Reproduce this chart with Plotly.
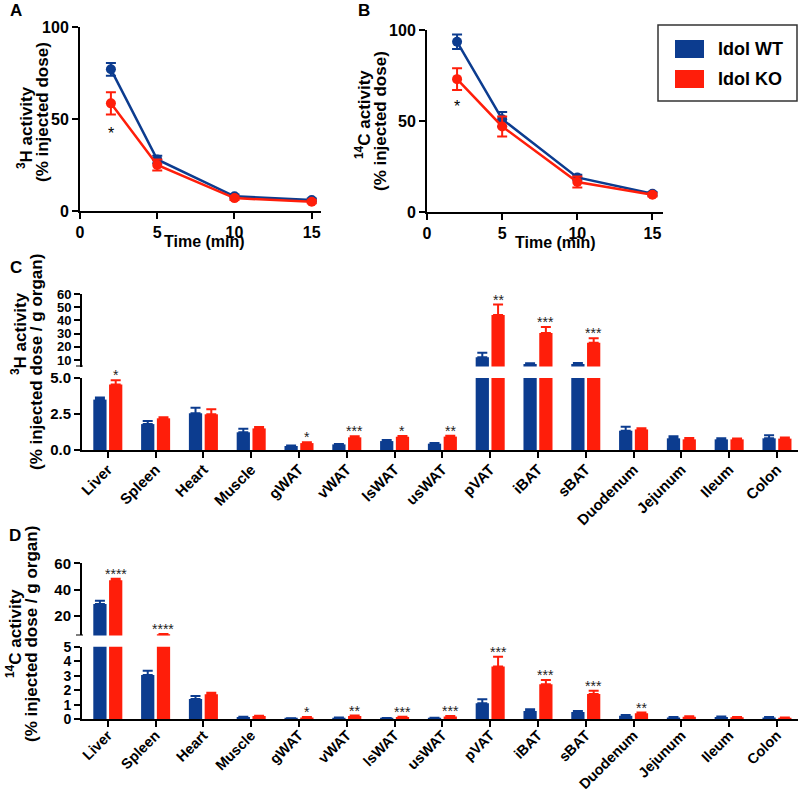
import plotly.graph_objects as go

# ---------------- data ----------------
time_min = [2, 5, 10, 15]
A_wt = [77, 28, 8, 6]
A_wt_err = [3.5, 2.0, 1.0, 0.8]
A_ko = [58.5, 25, 7, 5]
A_ko_err = [6.0, 3.0, 1.0, 0.8]

B_wt = [93.5, 51, 19, 10]
B_wt_err = [4.0, 4.0, 1.5, 1.0]
B_ko = [73, 47, 16.5, 9.5]
B_ko_err = [6.0, 5.5, 3.0, 1.0]

organs = ["Liver", "Spleen", "Heart", "Muscle", "gWAT", "vWAT", "lsWAT", "usWAT",
          "pVAT", "iBAT", "sBAT", "Duodenum", "Jejunum", "Ileum", "Colon"]

C_wt = [3.5, 1.8, 2.55, 1.23, 0.28, 0.39, 0.62, 0.44, 12, 7, 7, 1.34, 0.81, 0.74, 0.81]
C_wt_err = [0.15, 0.22, 0.38, 0.25, 0.03, 0.03, 0.08, 0.04, 3.5, 0.6, 0.8, 0.28, 0.15, 0.08, 0.22]
C_ko = [4.55, 2.2, 2.48, 1.5, 0.48, 0.88, 0.92, 0.93, 44, 30.5, 23, 1.43, 0.74, 0.74, 0.79]
C_ko_err = [0.3, 0.08, 0.35, 0.1, 0.06, 0.08, 0.06, 0.06, 8, 4.5, 3.5, 0.08, 0.1, 0.06, 0.08]
C_stars = ["*", "", "", "", "*", "***", "*", "**", "**", "***", "***", "", "", "", ""]

D_wt = [29, 3.05, 1.4, 0.15, 0.05, 0.1, 0.07, 0.08, 1.1, 0.57, 0.5, 0.25, 0.12, 0.16, 0.12]
D_wt_err = [2.5, 0.3, 0.2, 0.03, 0.02, 0.02, 0.02, 0.02, 0.28, 0.12, 0.08, 0.05, 0.03, 0.04, 0.03]
D_ko = [47, 5.8, 1.72, 0.22, 0.12, 0.22, 0.15, 0.2, 3.63, 2.41, 1.74, 0.41, 0.18, 0.14, 0.1]
D_ko_err = [1.3, 0.3, 0.1, 0.03, 0.03, 0.04, 0.03, 0.03, 0.67, 0.3, 0.23, 0.05, 0.03, 0.02, 0.02]
D_stars = ["****", "****", "", "", "*", "**", "***", "***", "***", "***", "***", "**", "", "", ""]

series_names = ["Idol WT", "Idol KO"]
BREAK = 5  # axis break value for panels C and D

# ---------------- style ----------------
W, H = 800, 789
BLUE = "#0C3C8F"
RED = "#FF1E0A"
FONT = "Liberation Sans, Arial, sans-serif"


def X(px):
    return px / W


def Y(py):
    return 1 - py / H


idx = list(range(len(organs)))

fig = go.Figure()

# ---- line panels A, B ----
for (wt, wte, ko, koe, xa, ya) in [(A_wt, A_wt_err, A_ko, A_ko_err, "x", "y"),
                                   (B_wt, B_wt_err, B_ko, B_ko_err, "x2", "y2")]:
    for vals, errs, col, nm in [(wt, wte, BLUE, series_names[0]), (ko, koe, RED, series_names[1])]:
        fig.add_trace(go.Scatter(
            x=time_min, y=vals, mode="lines+markers", name=nm, showlegend=False,
            line=dict(color=col, width=2.5), marker=dict(color=col, size=10),
            error_y=dict(type="data", array=errs, color=col, thickness=2, width=5),
            xaxis=xa, yaxis=ya, cliponaxis=False))

# ---- bar panels C, D (broken axes: lower + upper segments) ----
for (wt, wte, ko, koe, low, up) in [(C_wt, C_wt_err, C_ko, C_ko_err, ("x3", "y3"), ("x4", "y4")),
                                    (D_wt, D_wt_err, D_ko, D_ko_err, ("x5", "y5"), ("x6", "y6"))]:
    for vals, errs, col, nm in [(wt, wte, BLUE, series_names[0]), (ko, koe, RED, series_names[1])]:
        # lower segment: full bars (clipped at the break), error bars only if they fit
        low_err = [e if v + e <= BREAK else 0 for v, e in zip(vals, errs)]
        fig.add_trace(go.Bar(
            x=idx, y=vals, name=nm, showlegend=False, marker=dict(color=col, line=dict(width=0)),
            error_y=dict(type="data", symmetric=False, array=low_err, arrayminus=[0] * len(errs),
                         color=col, thickness=2, width=5),
            xaxis=low[0], yaxis=low[1]))
        # upper segment: only bars that exceed the break
        up_vals = [v if v > BREAK else None for v in vals]
        up_err = [e if v > BREAK else 0 for v, e in zip(vals, errs)]
        fig.add_trace(go.Bar(
            x=idx, y=up_vals, name=nm, showlegend=False, marker=dict(color=col, line=dict(width=0)),
            error_y=dict(type="data", symmetric=False, array=up_err, arrayminus=[0] * len(errs),
                         color=col, thickness=2, width=5),
            xaxis=up[0], yaxis=up[1]))

axis_common = dict(showline=True, linecolor="black", linewidth=2, ticks="outside",
                   tickwidth=2, ticklen=6, tickcolor="black", showgrid=False, zeroline=False,
                   automargin=False,
                   tickfont=dict(family=FONT, size=16, color="black", weight="bold"))

cat_range = [-0.54, 14.44]
catfont = dict(family=FONT, size=15, color="black", weight="bold")
catfont_d = dict(family=FONT, size=14.5, color="black", weight="bold")

layout = dict(
    width=W, height=H, margin=dict(l=0, r=0, t=0, b=0, autoexpand=False),
    plot_bgcolor="white", paper_bgcolor="white",
    barmode="group", bargap=0.34, bargroupgap=0.16,
    font=dict(family=FONT, color="black"),
    # A
    xaxis=dict(axis_common, domain=[X(80), X(321)], range=[0, 15.6], anchor="y",
               tickvals=[0, 5, 10, 15]),
    yaxis=dict(axis_common, domain=[Y(211), Y(27)], range=[0, 100], anchor="x",
               tickvals=[0, 50, 100]),
    # B
    xaxis2=dict(axis_common, domain=[X(427), X(663)], range=[0, 15.7], anchor="y2",
                tickvals=[0, 5, 10, 15]),
    yaxis2=dict(axis_common, domain=[Y(212), Y(30)], range=[0, 100], anchor="x2",
                tickvals=[0, 50, 100]),
    # C lower
    xaxis3=dict(axis_common, domain=[X(82), X(798)], range=cat_range, anchor="y3",
                tickvals=idx, ticktext=organs, tickangle=-45, tickfont=catfont,
                ticklabelstandoff=-3),
    yaxis3=dict(axis_common, domain=[Y(450), Y(378)], range=[0, BREAK], anchor="x3",
                tickvals=[0, 2.5, 5], ticktext=["0.0", "2.5", "5.0"],
                tickfont=dict(family=FONT, size=15, color="black", weight="bold")),
    # C upper
    xaxis4=dict(domain=[X(82), X(798)], range=cat_range, anchor="y4", visible=False,
                automargin=False),
    yaxis4=dict(axis_common, domain=[Y(366.6), Y(294)], range=[BREAK, 60], anchor="x4",
                tickvals=[10, 20, 30, 40, 50, 60],
                tickfont=dict(family=FONT, size=13, color="black", weight="bold")),
    # D lower
    xaxis5=dict(axis_common, domain=[X(82), X(798)], range=cat_range, anchor="y5",
                tickvals=idx, ticktext=organs, tickangle=-45, tickfont=catfont_d,
                ticklabelstandoff=-6),
    yaxis5=dict(axis_common, domain=[Y(719.3), Y(646.7)], range=[0, BREAK], anchor="x5",
                tickvals=[0, 1, 2, 3, 4, 5],
                tickfont=dict(family=FONT, size=14, color="black", weight="bold")),
    # D upper
    xaxis6=dict(domain=[X(82), X(798)], range=cat_range, anchor="y6", visible=False,
                automargin=False),
    yaxis6=dict(axis_common, domain=[Y(635.4), Y(563.3)], range=[BREAK, 60], anchor="x6",
                tickvals=[20, 40, 60],
                tickfont=dict(family=FONT, size=15, color="black", weight="bold")),
)
fig.update_layout(**layout)

ann = []


def paper_text(x, y, text, size, angle=0, xanchor="center", yanchor="middle", bold=True):
    ann.append(dict(x=X(x), y=Y(y), xref="paper", yref="paper", text=text, showarrow=False,
                    textangle=angle, xanchor=xanchor, yanchor=yanchor,
                    font=dict(family=FONT, size=size, color="black",
                              weight="bold" if bold else "normal")))


# panel letters
paper_text(16, 10, "A", 17)
paper_text(364, 10, "B", 17)
paper_text(16, 267, "C", 17)
paper_text(15, 535, "D", 17)

# y-axis titles
paper_text(25, 128, "<sup>3</sup>H activity", 17, angle=-90)
paper_text(42, 112, "(% injected dose)", 17, angle=-90)
paper_text(363, 115, "<sup>14</sup>C activity", 17, angle=-90)
paper_text(380, 121, "(% injected dose)", 17, angle=-90)
paper_text(19, 334, "<sup>3</sup>H activity", 17, angle=-90)
paper_text(36, 362, "(% injected dose / g organ)", 17, angle=-90)
paper_text(14, 634, "<sup>14</sup>C activity", 17, angle=-90)
paper_text(31, 634, "(% injected dose / g organ)", 17, angle=-90)

# x-axis titles
paper_text(205, 241, "Time (min)", 16)
paper_text(555, 242, "Time (min)", 16)

# stars in A, B
ann.append(dict(x=2, y=42, xref="x", yref="y", text="*", showarrow=False,
                font=dict(family=FONT, size=16, color="black")))
ann.append(dict(x=2, y=58, xref="x2", yref="y2", text="*", showarrow=False,
                font=dict(family=FONT, size=16, color="black")))

# stars in C, D
for vals, errs, stars, (xl, yl), (xu, yu) in [(C_ko, C_ko_err, C_stars, ("x3", "y3"), ("x4", "y4")),
                                               (D_ko, D_ko_err, D_stars, ("x5", "y5"), ("x6", "y6"))]:
    for i, s in enumerate(stars):
        if not s:
            continue
        top = vals[i] + errs[i]
        xr, yr = (xl, yl) if top < BREAK else (xu, yu)
        ann.append(dict(x=i + 0.165, y=top, xref=xr, yref=yr, text=s, showarrow=False,
                        yanchor="bottom", yshift=-5,
                        font=dict(family=FONT, size=14, color="#222")))

# legend box + break ticks at the bottom of the upper segments
shapes = [
    dict(type="rect", xref="paper", yref="paper", x0=X(658), x1=X(797), y0=Y(101), y1=Y(25),
         line=dict(color="#333", width=1.5), fillcolor="white"),
    dict(type="rect", xref="paper", yref="paper", x0=X(675), x1=X(704), y0=Y(58), y1=Y(40),
         line=dict(width=0), fillcolor=BLUE),
    dict(type="rect", xref="paper", yref="paper", x0=X(675), x1=X(704), y0=Y(88), y1=Y(70),
         line=dict(width=0), fillcolor=RED),
]
for yv in ["y4", "y6"]:
    shapes.append(dict(type="line", xref="paper", yref=yv, x0=X(76), x1=X(83), y0=BREAK, y1=BREAK,
                       line=dict(color="black", width=2)))

paper_text(716, 49, series_names[0], 18, xanchor="left")
paper_text(716, 79, series_names[1], 18, xanchor="left")

fig.update_layout(annotations=ann, shapes=shapes)

fig.write_html("out.html", config={"displayModeBar": False},
               post_script="document.body.style.margin='0px';")
